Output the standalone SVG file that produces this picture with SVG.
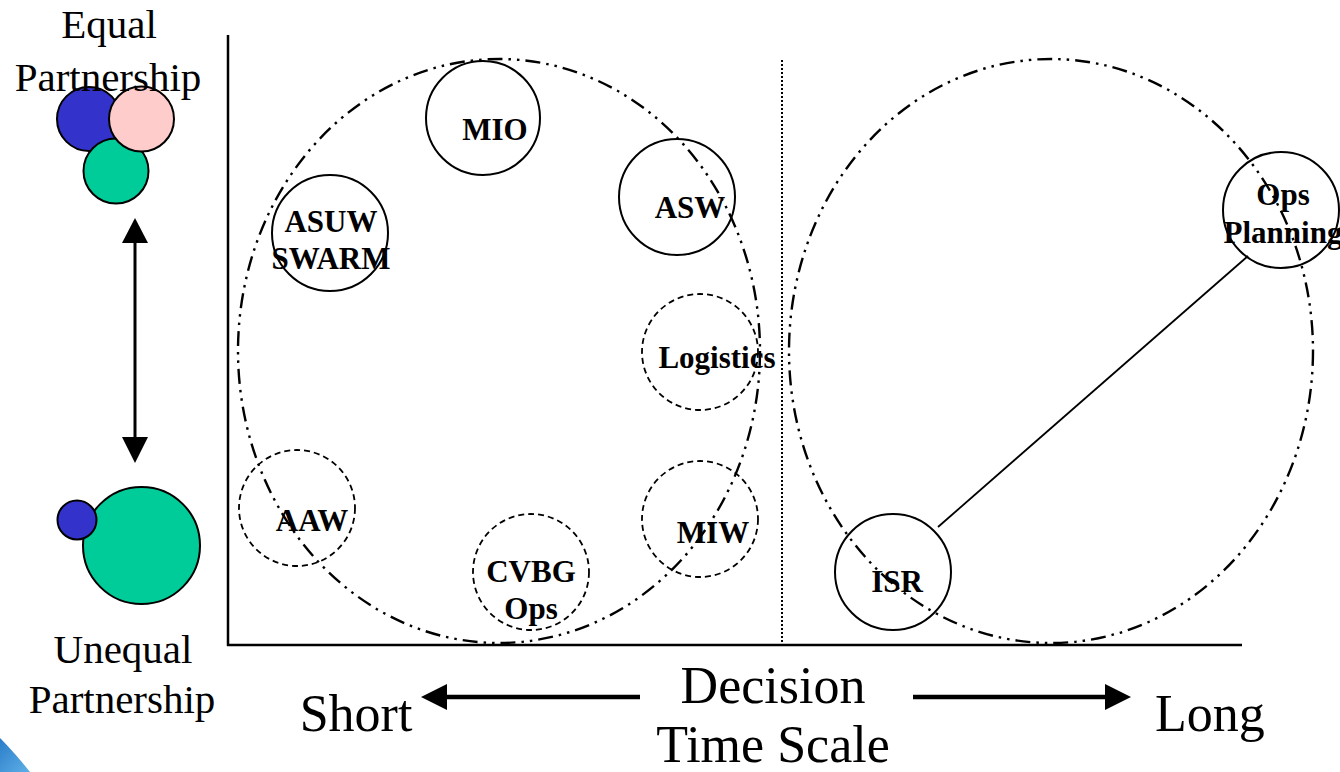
<svg xmlns="http://www.w3.org/2000/svg" width="1340" height="772" viewBox="0 0 1340 772">
<defs>
<style>
.big{fill:none;stroke:#000;stroke-width:2.4;stroke-dasharray:15 6 2.5 6 2.5 6}
.solid{fill:none;stroke:#000;stroke-width:2}
.dash{fill:none;stroke:#000;stroke-width:1.8;stroke-dasharray:6 4}
.lbl{font-family:"Liberation Serif","Times New Roman",serif;font-weight:bold;font-size:31px;text-anchor:middle;fill:#000}
.ax{font-family:"Liberation Serif","Times New Roman",serif;font-size:41px;text-anchor:middle;fill:#000}
.axb{font-family:"Liberation Serif","Times New Roman",serif;font-size:52px;text-anchor:middle;fill:#000}
.pc{stroke:#000;stroke-width:2}
</style>
<linearGradient id="sw" x1="0" y1="0" x2="1" y2="1">
<stop offset="0" stop-color="#2a7cc8"/>
<stop offset="1" stop-color="#5fb0e8"/>
</linearGradient>
</defs>
<rect width="1340" height="772" fill="#fff"/>
<path d="M0,738 Q14,752 30,772 L0,772 Z" fill="url(#sw)"/>

<g id="axes">
<line x1="228" y1="35" x2="228" y2="646" stroke="#000" stroke-width="2.5"/>
<line x1="227" y1="645" x2="1242" y2="645" stroke="#000" stroke-width="2.5"/>
<line x1="782" y1="60" x2="782" y2="645" stroke="#000" stroke-width="2" stroke-dasharray="2 2"/>
</g>

<g id="group-short">
<ellipse class="big" cx="499" cy="351" rx="261" ry="292"/>
</g>
<g id="group-long">
<ellipse class="big" cx="1051" cy="351" rx="262" ry="292"/>
</g>

<g id="connectors">
<line x1="938" y1="527" x2="1248" y2="256" stroke="#000" stroke-width="1.8"/>
<line x1="135" y1="238" x2="135" y2="442" stroke="#000" stroke-width="3"/>
<polygon points="135,218 122,243 148,243" fill="#000"/>
<polygon points="135,463 122,437 148,437" fill="#000"/>
<line x1="440" y1="697" x2="640" y2="697" stroke="#000" stroke-width="4.5"/>
<polygon points="421,697 447,684 447,710" fill="#000"/>
<line x1="913" y1="697" x2="1112" y2="697" stroke="#000" stroke-width="4.5"/>
<polygon points="1131,697 1105,684 1105,710" fill="#000"/>
</g>

<g id="node-mio"><circle class="solid" cx="483" cy="118" r="57"/><text class="lbl" x="495" y="140">MIO</text></g>
<g id="node-asuw"><circle class="solid" cx="330" cy="233" r="58"/><text class="lbl" x="331" y="232">ASUW</text><text class="lbl" x="331" y="269">SWARM</text></g>
<g id="node-asw"><circle class="solid" cx="677" cy="197" r="58"/><text class="lbl" x="690" y="218">ASW</text></g>
<g id="node-logistics"><circle class="dash" cx="700" cy="352" r="58"/><text class="lbl" x="717" y="368">Logistics</text></g>
<g id="node-aaw"><circle class="dash" cx="297" cy="508" r="58"/><text class="lbl" x="312" y="531">AAW</text></g>
<g id="node-cvbg"><circle class="dash" cx="531" cy="572" r="58"/><text class="lbl" x="531" y="582">CVBG</text><text class="lbl" x="531" y="619">Ops</text></g>
<g id="node-miw"><circle class="dash" cx="700" cy="519" r="58"/><text class="lbl" x="713" y="543">MIW</text></g>
<g id="node-isr"><circle class="solid" cx="893" cy="572" r="58"/><text class="lbl" x="897" y="592">ISR</text></g>
<g id="node-ops"><circle class="solid" cx="1281" cy="210" r="58"/><text class="lbl" x="1283" y="205">Ops</text><text class="lbl" x="1283" y="243">Planning</text></g>

<g id="legend-equal">
<circle class="pc" cx="89" cy="119" r="32" fill="#3333CC"/>
<circle class="pc" cx="116" cy="171" r="32.5" fill="#00CC99"/>
<circle class="pc" cx="141.5" cy="119" r="32.5" fill="#FFCCCC"/>
<text class="ax" x="109" y="38">Equal</text>
<text class="ax" x="108" y="91">Partnership</text>
</g>
<g id="legend-unequal">
<circle class="pc" cx="141.5" cy="545.5" r="58.5" fill="#00CC99"/>
<circle class="pc" cx="77" cy="520" r="19.5" fill="#3333CC"/>
<text class="ax" x="123" y="663">Unequal</text>
<text class="ax" x="122" y="713">Partnership</text>
</g>

<g id="axis-labels">
<text class="axb" x="356" y="731">Short</text>
<text class="axb" x="773" y="703">Decision</text>
<text class="axb" x="773" y="762">Time Scale</text>
<text class="axb" x="1210" y="731">Long</text>
</g>
</svg>
